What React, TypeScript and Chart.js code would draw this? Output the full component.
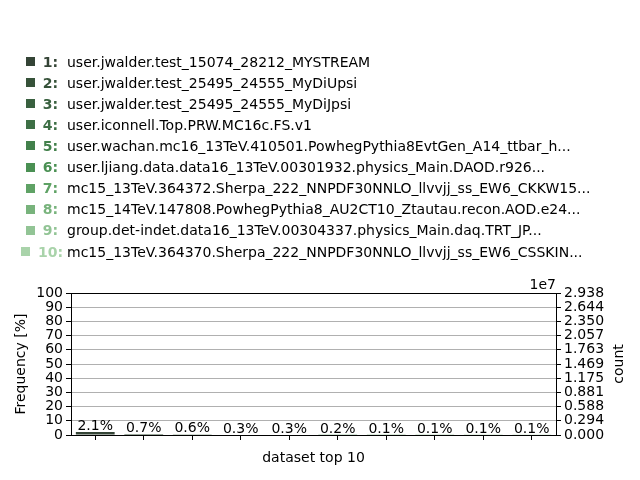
import React, { useEffect, useRef } from "react";
import { Chart, registerables } from "chart.js";

Chart.register(...registerables);

const datasetNames = [
  "user.jwalder.test_15074_28212_MYSTREAM",
  "user.jwalder.test_25495_24555_MyDiUpsi",
  "user.jwalder.test_25495_24555_MyDiJpsi",
  "user.iconnell.Top.PRW.MC16c.FS.v1",
  "user.wachan.mc16_13TeV.410501.PowhegPythia8EvtGen_A14_ttbar_h...",
  "user.ljiang.data.data16_13TeV.00301932.physics_Main.DAOD.r926...",
  "mc15_13TeV.364372.Sherpa_222_NNPDF30NNLO_llvvjj_ss_EW6_CKKW15...",
  "mc15_14TeV.147808.PowhegPythia8_AU2CT10_Ztautau.recon.AOD.e24...",
  "group.det-indet.data16_13TeV.00304337.physics_Main.daq.TRT_JP...",
  "mc15_13TeV.364370.Sherpa_222_NNPDF30NNLO_llvvjj_ss_EW6_CSSKIN...",
];
const categories = ["1", "2", "3", "4", "5", "6", "7", "8", "9", "10"];
const percentValues = [2.1, 0.7, 0.6, 0.3, 0.3, 0.2, 0.1, 0.1, 0.1, 0.1];
const percentLabels = ["2.1%", "0.7%", "0.6%", "0.3%", "0.3%", "0.2%", "0.1%", "0.1%", "0.1%", "0.1%"];
const colors = [
  "#344436", "#365239", "#39603f", "#3d6f45", "#42804b",
  "#4a9053", "#5fa265", "#78b37c", "#92c495", "#a9d3aa",
];
const countMax = 29380000;
const countTickLabels = ["0.000", "0.294", "0.588", "0.881", "1.175", "1.469", "1.763", "2.057", "2.350", "2.644", "2.938"];
const leftTicks = [0, 10, 20, 30, 40, 50, 60, 70, 80, 90, 100];

const FONT = "DejaVu Sans";
const FS = 14;

const decoPlugin = {
  id: "deco",
  afterDraw(chart: any) {
    const ctx = chart.ctx;
    const area = chart.chartArea;
    ctx.save();
    ctx.strokeStyle = "#000";
    ctx.lineWidth = 1;
    ctx.strokeRect(Math.round(area.left) + 0.5, Math.round(area.top) + 0.5, Math.round(area.right - area.left), Math.round(area.bottom - area.top));
    const meta = chart.getDatasetMeta(0);
    ctx.font = `${FS}px "${FONT}"`;
    ctx.fillStyle = "#000";
    ctx.textAlign = "center";
    ctx.textBaseline = "alphabetic";
    meta.data.forEach((bar: any, i: number) => {
      ctx.fillText(percentLabels[i], bar.x, bar.y - 2);
    });
    const rowStart = 61.5;
    const rowStep = 21.12;
    for (let i = 0; i < datasetNames.length; i++) {
      const cy = rowStart + i * rowStep;
      const base = cy + 5;
      ctx.font = `bold ${FS}px "${FONT}"`;
      const num = `${categories[i]}:`;
      const w = ctx.measureText(num).width;
      const sq = 9;
      const gap = 8;
      const total = sq + gap + w;
      const start = 42 - total / 2;
      ctx.fillStyle = colors[i];
      ctx.fillRect(Math.round(start), Math.round(cy - 4.5), sq, sq);
      ctx.textAlign = "left";
      ctx.fillText(num, start + sq + gap, base);
      ctx.font = `${FS}px "${FONT}"`;
      ctx.fillStyle = "#000";
      ctx.fillText(datasetNames[i], 67, base);
    }
    ctx.fillStyle = "#000";
    ctx.font = `${FS}px "${FONT}"`;
    ctx.textAlign = "center";
    ctx.fillText("dataset top 10", (area.left + area.right) / 2, 462);
    ctx.textAlign = "right";
    ctx.fillText("1e7", area.right, area.top - 4);
    ctx.save();
    ctx.translate(25, (area.top + area.bottom) / 2);
    ctx.rotate(-Math.PI / 2);
    ctx.textAlign = "center";
    ctx.fillText("Frequency [%]", 0, 0);
    ctx.restore();
    ctx.save();
    ctx.translate(623, (area.top + area.bottom) / 2);
    ctx.rotate(-Math.PI / 2);
    ctx.textAlign = "center";
    ctx.fillText("count", 0, 0);
    ctx.restore();
    ctx.restore();
  },
};

export default function App() {
  const ref = useRef<HTMLCanvasElement>(null);
  useEffect(() => {
    if (!ref.current) return;
    const chart = new Chart(ref.current, {
      type: "bar",
      data: {
        labels: categories,
        datasets: [
          {
            data: percentValues,
            backgroundColor: colors,
            borderWidth: 0,
            barPercentage: 0.8,
            categoryPercentage: 1,
            yAxisID: "y",
          },
        ],
      },
      options: {
        animation: false,
        responsive: false,
        events: [],
        layout: { padding: { top: 293, left: 0, right: 0, bottom: 0 } },
        plugins: { legend: { display: false }, tooltip: { enabled: false }, title: { display: false } },
        scales: {
          x: {
            type: "category",
            offset: true,
            grid: { display: true, drawOnChartArea: false, drawTicks: true, tickLength: 5, color: "#000", offset: false },
            border: { display: false },
            ticks: { callback: () => "", font: { family: FONT, size: FS } },
            afterFit: (s: any) => { s.height = 45; },
          },
          y: {
            position: "left",
            min: 0,
            max: 100,
            afterBuildTicks: (s: any) => { s.ticks = leftTicks.map((v) => ({ value: v })); },
            grid: { color: "#b0b0b0", tickLength: 5, tickColor: "#000", lineWidth: 1 },
            border: { display: false },
            ticks: { color: "#000", padding: 3, autoSkip: false, font: { family: FONT, size: FS } },
            afterFit: (s: any) => { s.width = 71; },
          },
          y2: {
            position: "right",
            min: 0,
            max: countMax,
            afterBuildTicks: (s: any) => { s.ticks = countTickLabels.map((_, i) => ({ value: (countMax / 10) * i })); },
            grid: { drawOnChartArea: false, tickLength: 5, color: "#000" },
            border: { display: false },
            ticks: {
              color: "#000",
              padding: 3,
              autoSkip: false,
              font: { family: FONT, size: FS },
              callback: (_v: any, i: number) => countTickLabels[i],
            },
            afterFit: (s: any) => { s.width = 84; },
          },
        },
      },
      plugins: [decoPlugin],
    } as any);
    return () => chart.destroy();
  }, []);
  return (
    <div style={{ position: "absolute", left: 0, top: 0, width: 640, height: 480, background: "#fff" }}>
      <canvas ref={ref} width={640} height={480} style={{ width: 640, height: 480 }} />
    </div>
  );
}
